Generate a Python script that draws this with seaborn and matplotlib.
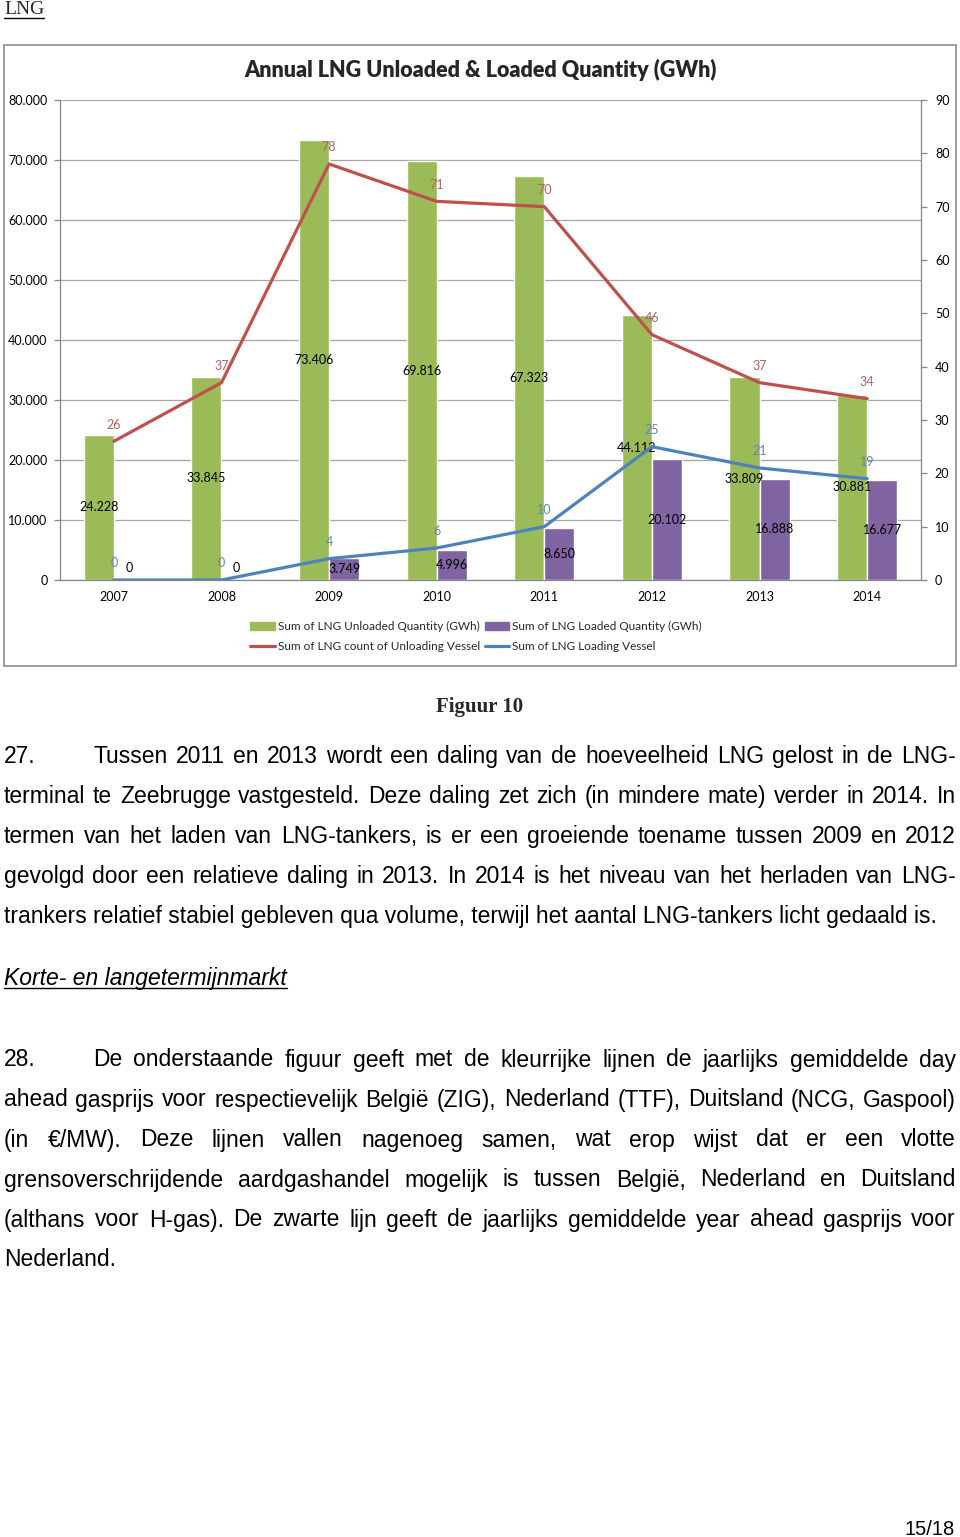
import numpy as np
import pandas as pd
import matplotlib
matplotlib.use("Agg")
import matplotlib.pyplot as plt
import seaborn as sns
from matplotlib.patches import Patch, Rectangle
from matplotlib.lines import Line2D
from matplotlib.ticker import FuncFormatter, MultipleLocator

# Data of the chart
years = ['2007', '2008', '2009', '2010', '2011', '2012', '2013', '2014']
unloaded_gwh = [24228, 33845, 73406, 69816, 67323, 44112, 33809, 30881]
loaded_gwh = [0, 0, 3749, 4996, 8650, 20102, 16888, 16677]
unloading_vessels = [26, 37, 78, 71, 70, 46, 37, 34]
loading_vessels = [0, 0, 4, 6, 10, 25, 21, 19]

series_names = ['Sum of LNG Unloaded Quantity (GWh)',
                'Sum of LNG Loaded Quantity (GWh)',
                'Sum of LNG count of Unloading Vessel',
                'Sum of LNG Loading Vessel']
chart_title = 'Annual LNG Unloaded & Loaded Quantity (GWh)'

# Page text
header = 'LNG'
caption = 'Figuur 10'
para27_nr = '27.'
para27_lines = [
    'Tussen 2011 en 2013 wordt een daling van de hoeveelheid LNG gelost in de LNG-',
    'terminal te Zeebrugge vastgesteld. Deze daling zet zich (in mindere mate) verder in 2014. In',
    'termen van het laden van LNG-tankers, is er een groeiende toename tussen 2009 en 2012',
    'gevolgd door een relatieve daling in 2013. In 2014 is het niveau van het herladen van LNG-',
    'trankers relatief stabiel gebleven qua volume, terwijl het aantal LNG-tankers licht gedaald is.',
]
subheading = 'Korte- en langetermijnmarkt'
para28_nr = '28.'
para28_lines = [
    'De onderstaande figuur geeft met de kleurrijke lijnen de jaarlijks gemiddelde day',
    'ahead gasprijs voor respectievelijk België (ZIG), Nederland (TTF), Duitsland (NCG, Gaspool)',
    '(in €/MW). Deze lijnen vallen nagenoeg samen, wat erop wijst dat er een vlotte',
    'grensoverschrijdende aardgashandel mogelijk is tussen België, Nederland en Duitsland',
    '(althans voor H-gas). De zwarte lijn geeft de jaarlijks gemiddelde year ahead gasprijs voor',
    'Nederland.',
]
page_nr = '15/18'

GREEN, PURPLE = '#9bbb59', '#8064a2'
RED, BLUE = '#c0504d', '#4f81bd'
RED_LBL, BLUE_LBL = '#b0605d', '#5f87ad'
AXIS_GRAY = '#868686'

sns.set_style('white')
plt.rcParams['font.family'] = ['Lato', 'DejaVu Sans']

W, H = 960, 1537
fig = plt.figure(figsize=(W / 100, H / 100), dpi=100)


def fx(px):
    return px / W


def fy(py):
    return 1 - py / H


# Chart frame
fig.add_artist(Rectangle((fx(4), fy(666)), fx(952), 621 / H, transform=fig.transFigure,
                         fill=False, edgecolor='#8c8c8c', lw=1.2))

ax = fig.add_axes([fx(60), fy(580), fx(861), 480 / H])

bars = pd.DataFrame({
    'year': years * 2,
    'gwh': unloaded_gwh + loaded_gwh,
    'series': [series_names[0]] * len(years) + [series_names[1]] * len(years),
})
sns.barplot(data=bars, x='year', y='gwh', hue='series', palette=[GREEN, PURPLE],
            width=0.56, saturation=1, legend=False, ax=ax)

# bar labels in the middle of each bar
for cont in ax.containers:
    for p in cont:
        h = p.get_height()
        ax.annotate(f'{int(h):,}'.replace(',', '.'), (p.get_x() + p.get_width() / 2, h / 2),
                    xytext=(0, 9 if h == 0 else 0), textcoords='offset points',
                    ha='center', va='center', fontsize=9, color='black')

ax.set_ylim(0, 80000)
ax.yaxis.set_major_locator(MultipleLocator(10000))
ax.yaxis.set_major_formatter(FuncFormatter(lambda v, p: f'{int(v):,}'.replace(',', '.')))
ax.yaxis.grid(True, color='#a6a6a6', lw=0.9)
ax.set_axisbelow(True)
ax.set_xlabel('')
ax.set_ylabel('')

ax2 = ax.twinx()
lines = pd.DataFrame({
    'pos': list(range(len(years))) * 2,
    'count': unloading_vessels + loading_vessels,
    'series': [series_names[2]] * len(years) + [series_names[3]] * len(years),
})
sns.lineplot(data=lines, x='pos', y='count', hue='series', palette=[RED, BLUE],
             lw=2.3, legend=False, ax=ax2)
for vals, col in [(unloading_vessels, RED_LBL), (loading_vessels, BLUE_LBL)]:
    for i, v in enumerate(vals):
        ax2.annotate(str(v), (i, v), xytext=(0, 12), textcoords='offset points',
                     ha='center', va='center', fontsize=9, color=col)
ax2.set_ylim(0, 90)
ax2.yaxis.set_major_locator(MultipleLocator(10))
ax2.set_ylabel('')

ax.set_xlim(-0.5, len(years) - 0.5)
ax.set_xticks(range(len(years)))
ax.set_xticklabels(years)
ax.set_xticks(np.arange(-0.5, len(years), 1), minor=True)
ax.tick_params(axis='x', which='major', length=0, pad=8, labelsize=9, labelcolor='black')
ax.tick_params(axis='x', which='minor', length=4, width=0.9, color=AXIS_GRAY, direction='out')
ax.tick_params(axis='y', length=4, width=0.9, color=AXIS_GRAY, direction='out', pad=5,
               labelsize=9, labelcolor='black', left=True)
ax2.tick_params(axis='y', length=4, width=0.9, color=AXIS_GRAY, direction='out', pad=6,
                labelsize=9, labelcolor='black', right=True)

for a in (ax, ax2):
    for s in a.spines.values():
        s.set_color(AXIS_GRAY)
        s.set_linewidth(0.9)
    a.spines['top'].set_visible(False)
ax.spines['right'].set_visible(False)
ax2.spines['left'].set_visible(False)
ax2.spines['bottom'].set_visible(False)

fig.text(fx(480), fy(70), chart_title, ha='center', va='center', fontsize=15.5,
         fontweight='heavy')

handles = [Patch(color=GREEN), Line2D([], [], color=RED, lw=2.3),
           Patch(color=PURPLE), Line2D([], [], color=BLUE, lw=2.3)]
labels = [series_names[0], series_names[2], series_names[1], series_names[3]]
fig.legend(handles, labels, loc='center', bbox_to_anchor=(fx(476), fy(636.5)), ncol=2,
           frameon=False, fontsize=8.5, handlelength=2.1, handletextpad=0.25,
           columnspacing=0.4, labelspacing=0.75)

# ---- page text ----
renderer = fig.canvas.get_renderer()
BODY = dict(family='Liberation Sans', fontsize=16.5, color='black')


def place_line(text, x0, x1, base_y, justify):
    words = text.split(' ')
    if not justify or len(words) == 1:
        fig.text(fx(x0), fy(base_y), text, va='baseline', ha='left', **BODY)
        return
    objs = [fig.text(0, fy(base_y), w, va='baseline', ha='left', **BODY) for w in words]
    widths = [t.get_window_extent(renderer).width for t in objs]
    gap = (x1 - x0 - sum(widths)) / (len(words) - 1)
    x = x0
    for t, w in zip(objs, widths):
        t.set_x(fx(x))
        x += w + gap


def underline(t, base_y):
    bb = t.get_window_extent(renderer)
    fig.add_artist(Line2D([bb.x0 / W, bb.x1 / W], [fy(base_y + 3), fy(base_y + 3)],
                          transform=fig.transFigure, color='black', lw=1))


t = fig.text(fx(4), fy(14.5), header, family='Liberation Serif', fontsize=14, va='baseline')
underline(t, 14.5)

fig.text(fx(480), fy(712), caption, family='Liberation Serif', fontsize=15, fontweight='bold',
         ha='center', va='baseline')

fig.text(fx(4), fy(763), para27_nr, va='baseline', **BODY)
for i, line in enumerate(para27_lines):
    x0 = 93 if i == 0 else 4
    place_line(line, x0, 956, 763 + 40 * i, i < len(para27_lines) - 1)

t = fig.text(fx(4), fy(985), subheading, va='baseline', style='italic', **BODY)
underline(t, 985)

fig.text(fx(4), fy(1066.5), para28_nr, va='baseline', **BODY)
for i, line in enumerate(para28_lines):
    x0 = 93 if i == 0 else 4
    place_line(line, x0, 956, 1066.5 + 40 * i, i < len(para28_lines) - 1)

fig.text(fx(955), fy(1535), page_nr, ha='right', va='baseline', family='Liberation Sans',
         fontsize=14.5, color='black')

fig.savefig('out.png', dpi=100)
